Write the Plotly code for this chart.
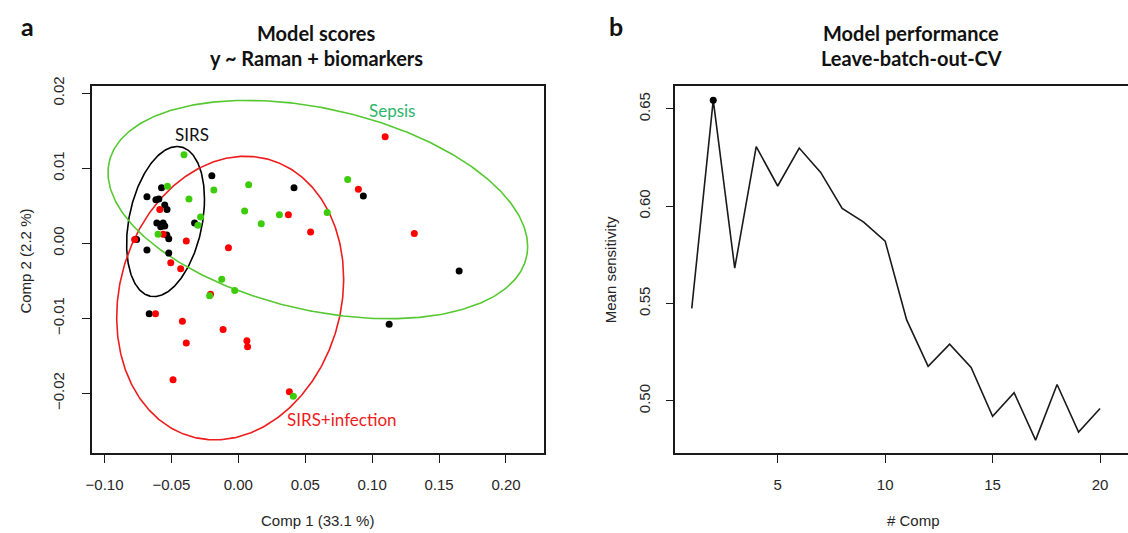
import numpy as np
import plotly.graph_objects as go

W, H = 1128, 533

# ---------------- Panel a data ----------------
sirs_x = [-0.0198, -0.0574, -0.0683, -0.0616, -0.0594, -0.0550, -0.0533, 0.0416, -0.0327,
          -0.0609, -0.0562, -0.0550, -0.0580, -0.0535, -0.0520, -0.0760, -0.0683, -0.0520,
          -0.0666, 0.0934, 0.1650, 0.1127]
sirs_y = [0.0090, 0.0074, 0.0062, 0.0058, 0.0059, 0.0051, 0.0045, 0.0074, 0.0027,
          0.0027, 0.0027, 0.0023, 0.0022, 0.0011, 0.0006, 0.0005, -0.0009, -0.0013,
          -0.0094, 0.0063, -0.0037, -0.0108]

sepsis_x = [-0.0406, -0.0530, -0.0183, 0.0077, -0.0369, 0.0047, 0.0307, 0.0664, 0.0171,
            -0.0282, -0.0302, -0.0600, -0.0124, -0.0027, -0.0215, 0.0411, 0.0817]
sepsis_y = [0.0118, 0.0076, 0.0071, 0.0078, 0.0059, 0.0043, 0.0038, 0.0041, 0.0026,
            0.0035, 0.0024, 0.0012, -0.0048, -0.0063, -0.0070, -0.0204, 0.0085]

infect_x = [-0.0587, 0.0374, 0.0540, -0.0562, -0.0775, -0.0389, -0.0074, -0.0505, -0.0431,
            -0.0208, -0.0619, -0.0418, -0.0114, -0.0389, 0.0064, 0.0069, -0.0488, 0.0381,
            0.1097, 0.0897, 0.1315]
infect_y = [0.0045, 0.0038, 0.0015, 0.0012, 0.0005, 0.0003, -0.0006, -0.0026, -0.0034,
            -0.0068, -0.0094, -0.0104, -0.0115, -0.0133, -0.0130, -0.0138, -0.0182, -0.0198,
            0.0142, 0.0072, 0.0013]

# ellipse parameters (centre, half-extent in x / y, correlation)
ell_names = ["SIRS", "SIRS+infection", "Sepsis"]
ell_cx = [-0.0544, -0.0061, 0.0594]
ell_cy = [0.0029, -0.0073, 0.0045]
ell_hx = [0.0291, 0.0848, 0.1568]
ell_hy = [0.0100, 0.0189, 0.01455]
ell_r = [0.298, 0.135, -0.338]

xa_ticks = [-0.10, -0.05, 0.00, 0.05, 0.10, 0.15, 0.20]
xa_text = ["\u22120.10", "\u22120.05", "0.00", "0.05", "0.10", "0.15", "0.20"]
ya_ticks = [-0.02, -0.01, 0.00, 0.01, 0.02]
ya_text = ["\u22120.02", "\u22120.01", "0.00", "0.01", "0.02"]

# ---------------- Panel b data ----------------
n_comp = list(range(1, 21))
mean_sens = [0.5475, 0.6545, 0.5682, 0.6306, 0.6104, 0.6299, 0.6174, 0.5989, 0.5918, 0.5821,
             0.5416, 0.5177, 0.5291, 0.5172, 0.4921, 0.5042, 0.4798, 0.5084, 0.4840, 0.4961]
xb_ticks = [5, 10, 15, 20]
yb_ticks = [0.50, 0.55, 0.60, 0.65]
yb_text = ["0.50", "0.55", "0.60", "0.65"]

BLACK = "#000000"
RED = "#ff0000"
GREEN = "#3ccc0a"
GREEN_LINE = "#55c832"
SEPSIS_TXT = "#2bb56a"

fig = go.Figure()

# ellipses
ell_colors = [BLACK, "#ee1c1c", GREEN_LINE]
t = np.linspace(0, 2 * np.pi, 400)
for cx, cy, hx, hy, r, col in zip(ell_cx, ell_cy, ell_hx, ell_hy, ell_r, ell_colors):
    ex = cx + hx * np.cos(t)
    ey = cy + hy * (r * np.cos(t) + np.sqrt(1 - r * r) * np.sin(t))
    fig.add_trace(go.Scatter(x=ex, y=ey, mode="lines", line=dict(color=col, width=1.6),
                             xaxis="x", yaxis="y", showlegend=False, hoverinfo="skip"))

for xs, ys, col in [(sirs_x, sirs_y, BLACK), (infect_x, infect_y, RED), (sepsis_x, sepsis_y, GREEN)]:
    fig.add_trace(go.Scatter(x=xs, y=ys, mode="markers",
                             marker=dict(color=col, size=7, line=dict(width=0)),
                             xaxis="x", yaxis="y", showlegend=False))

# panel b
fig.add_trace(go.Scatter(x=n_comp, y=mean_sens, mode="lines", line=dict(color="#1a1a1a", width=1.6),
                         xaxis="x2", yaxis="y2", showlegend=False))
imax = int(np.argmax(mean_sens))
fig.add_trace(go.Scatter(x=[n_comp[imax]], y=[mean_sens[imax]], mode="markers",
                         marker=dict(color=BLACK, size=7), xaxis="x2", yaxis="y2", showlegend=False))

def px(x):
    return x / W

def py(y):
    return 1 - y / H

ydom = [py(452), py(78.3)]
TICKFONT = dict(family="Liberation Sans, Arial, sans-serif", size=15, color="#262626")
axis_common = dict(showline=True, linecolor="#1a1a1a", linewidth=1.6, ticks="outside",
                   ticklen=8, tickwidth=1.4, tickcolor="#1a1a1a", showgrid=False,
                   zeroline=False, tickfont=TICKFONT)

fig.update_layout(
    width=W, height=H, margin=dict(l=0, r=0, t=0, b=0),
    paper_bgcolor="white", plot_bgcolor="white",
    xaxis=dict(domain=[px(86), px(541)], range=[-0.1097, 0.2285], anchor="y", mirror=True,
               tickvals=xa_ticks, ticktext=xa_text, ticklabelstandoff=9, **axis_common),
    yaxis=dict(domain=ydom, range=[-0.0280, 0.02097], anchor="x", mirror=True,
               tickvals=ya_ticks, ticktext=ya_text, tickangle=-90, ticklabelstandoff=12,
               **axis_common),
    xaxis2=dict(domain=[px(673), 1.0], range=[0.24, 21.3], anchor="y2", mirror=True,
                tickvals=xb_ticks, ticklabelstandoff=9, **axis_common),
    yaxis2=dict(domain=ydom, range=[0.4730, 0.6618], anchor="x2", mirror=False,
                tickvals=yb_ticks, ticktext=yb_text, tickangle=-90, ticklabelstandoff=10,
                **axis_common),
)

TITLEFONT = dict(family="Lato, Open Sans, sans-serif", size=20, color="#111111")
LABFONT = dict(family="Liberation Sans, Arial, sans-serif", size=15, color="#262626")
GROUPFONT = "Lato, Open Sans, sans-serif"

ann = [
    dict(x=px(22), y=py(17), text="<b>a</b>", font=dict(family="Lato, sans-serif", size=25, color="#111")),
    dict(x=px(613), y=py(17), text="<b>b</b>", font=dict(family="Lato, sans-serif", size=25, color="#111")),
    dict(x=px(312), y=py(24), text="<b>Model scores</b>", font=TITLEFONT),
    dict(x=px(312), y=py(50), text="<b>y ~ Raman + biomarkers</b>", font=TITLEFONT),
    dict(x=px(910), y=py(24), text="<b>Model performance</b>", font=TITLEFONT),
    dict(x=px(910), y=py(50), text="<b>Leave-batch-out-CV</b>", font=TITLEFONT),
    dict(x=px(313), y=py(520), text="Comp 1 (33.1 %)", font=LABFONT),
    dict(x=px(20), y=py(256), text="Comp 2 (2.2 %)", font=LABFONT, textangle=-90),
    dict(x=px(912), y=py(520), text="# Comp", font=LABFONT),
    dict(x=px(608), y=py(265), text="Mean sensitivity", font=LABFONT, textangle=-90),
    dict(x=px(187), y=py(128), text=ell_names[0], font=dict(family=GROUPFONT, size=17, color="#111111")),
    dict(x=px(338), y=py(418), text=ell_names[1], font=dict(family=GROUPFONT, size=17, color="#ee1c1c")),
    dict(x=px(388), y=py(103), text=ell_names[2], font=dict(family=GROUPFONT, size=17, color=SEPSIS_TXT)),
]
for a in ann:
    a.update(xref="paper", yref="paper", showarrow=False, xanchor="center", yanchor="middle")
    fig.add_annotation(**a)

fig.write_html("out.html")
